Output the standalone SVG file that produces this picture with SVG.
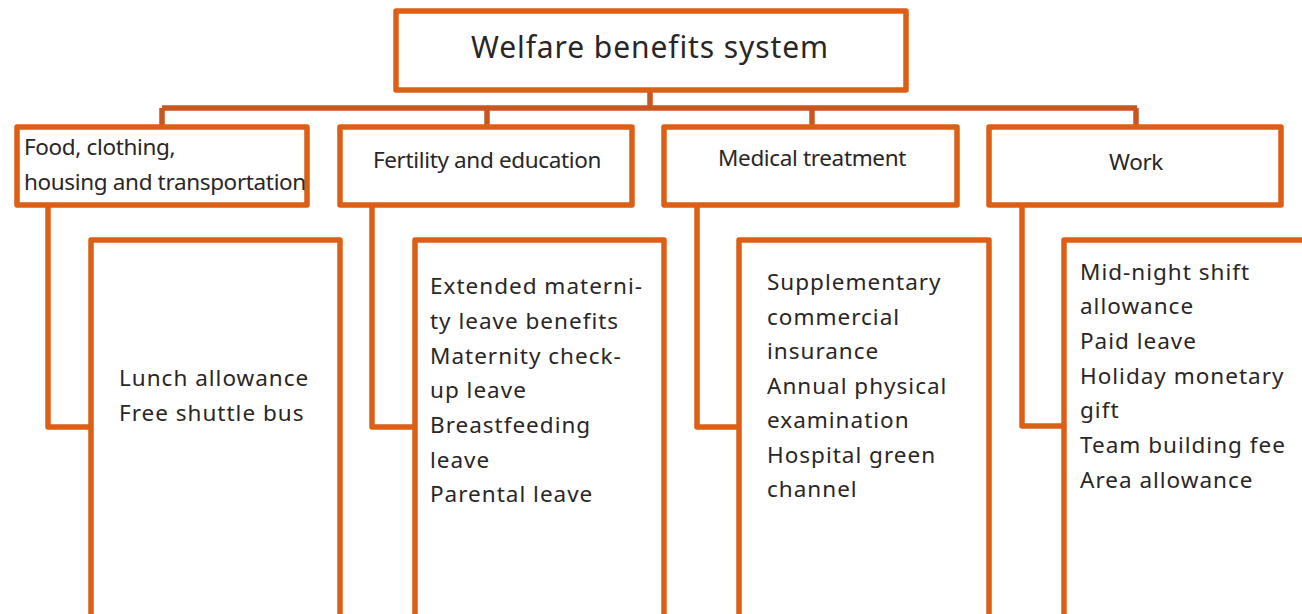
<svg xmlns="http://www.w3.org/2000/svg" width="1302" height="614" viewBox="0 0 1302 614">
<style>
.box{fill:#fff;stroke:#dd5f16;stroke-width:5.5;stroke-linejoin:round}
.conn{fill:none;stroke:#dd5f16;stroke-width:5.5;stroke-linejoin:round}
.bus{fill:none;stroke:#c9551f;stroke-width:5.5}
.t1{font-family:"Noto Sans","Open Sans",sans-serif;font-size:30px;fill:#2a2626;letter-spacing:0.9px}
.t2{font-family:"Noto Sans","Open Sans",sans-serif;font-size:22.5px;fill:#2a2626;letter-spacing:-0.35px}
.t3{font-family:"Noto Sans","Open Sans",sans-serif;font-size:22.5px;fill:#2a2626;letter-spacing:1px}
</style>
<rect width="1302" height="614" fill="#fff"/>
<g id="connectors">
<path class="bus" d="M650,92 V108 M162,108 H1137 M162,108 V125 M487,108 V125 M812,108 V125 M1136,108 V125"/>
<path class="conn" d="M48,205 V427 H91"/>
<path class="conn" d="M372,205 V427 H415"/>
<path class="conn" d="M697,205 V427 H739"/>
<path class="conn" d="M1022,205 V426 H1064"/>
</g>
<g id="root">
<rect class="box" x="396" y="11" width="510" height="79"/>
<text class="t1" x="650" y="58" text-anchor="middle">Welfare benefits system</text>
</g>
<g id="cat1">
<rect class="box" x="17" y="127" width="290" height="78"/>
<text class="t2" x="24" y="155">Food, clothing,</text>
<text class="t2" x="24" y="190">housing and transportation</text>
</g>
<g id="cat2">
<rect class="box" x="340" y="127" width="292" height="78"/>
<text class="t2" x="487" y="168" text-anchor="middle">Fertility and education</text>
</g>
<g id="cat3">
<rect class="box" x="664" y="127" width="293" height="78"/>
<text class="t2" x="812" y="166" text-anchor="middle">Medical treatment</text>
</g>
<g id="cat4">
<rect class="box" x="989" y="127" width="292" height="78"/>
<text class="t2" x="1136" y="170" text-anchor="middle">Work</text>
</g>
<g id="items1">
<rect class="box" x="91" y="240" width="249" height="390"/>
<text class="t3" x="119" y="386">Lunch allowance</text>
<text class="t3" x="119" y="421">Free shuttle bus</text>
</g>
<g id="items2">
<rect class="box" x="415" y="240" width="249" height="390"/>
<text class="t3" x="430" y="294">Extended materni-</text>
<text class="t3" x="430" y="329">ty leave benefits</text>
<text class="t3" x="430" y="364">Maternity check-</text>
<text class="t3" x="430" y="398">up leave</text>
<text class="t3" x="430" y="433">Breastfeeding</text>
<text class="t3" x="430" y="468">leave</text>
<text class="t3" x="430" y="502">Parental leave</text>
</g>
<g id="items3">
<rect class="box" x="739" y="240" width="250" height="390"/>
<text class="t3" x="767" y="290">Supplementary</text>
<text class="t3" x="767" y="325">commercial</text>
<text class="t3" x="767" y="359">insurance</text>
<text class="t3" x="767" y="394">Annual physical</text>
<text class="t3" x="767" y="428">examination</text>
<text class="t3" x="767" y="463">Hospital green</text>
<text class="t3" x="767" y="497">channel</text>
</g>
<g id="items4">
<rect class="box" x="1064" y="240" width="260" height="390"/>
<text class="t3" x="1080" y="280">Mid-night shift</text>
<text class="t3" x="1080" y="314">allowance</text>
<text class="t3" x="1080" y="349">Paid leave</text>
<text class="t3" x="1080" y="384">Holiday monetary</text>
<text class="t3" x="1080" y="418">gift</text>
<text class="t3" x="1080" y="453">Team building fee</text>
<text class="t3" x="1080" y="488">Area allowance</text>
</g>
</svg>
